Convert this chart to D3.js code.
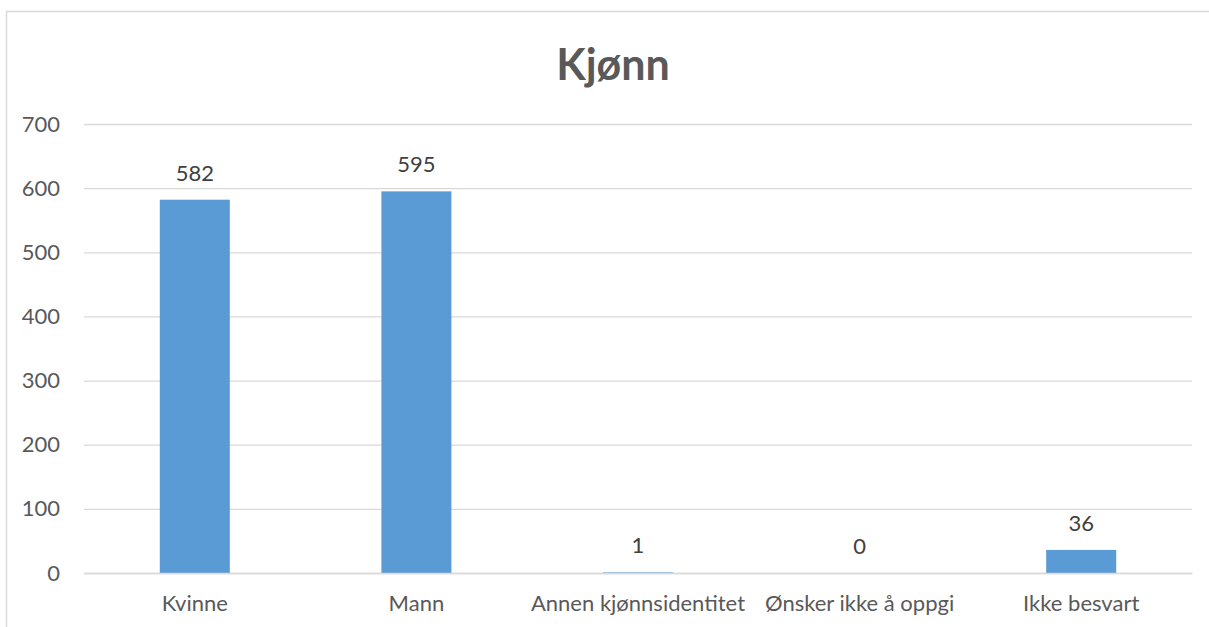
<!DOCTYPE html>
<html><head><meta charset="utf-8">
<script src="https://cdn.jsdelivr.net/npm/d3@7"></script>
<style>body{margin:0;background:#fff;} text{font-family:Lato, "Open Sans", sans-serif;}</style>
</head><body>
<svg id="c" width="1209" height="627"></svg>
<script>
const title = "Kjønn";
const categories = ["Kvinne", "Mann", "Annen kjønnsidentitet", "Ønsker ikke å oppgi", "Ikke besvart"];
const values = [582, 595, 1, 0, 36];
const yTicks = [0, 100, 200, 300, 400, 500, 600, 700];

const svg = d3.select("#c");
const W = 1209, H = 627;
const m = {left: 84, right: 1192, top: 124, bottom: 573};
const col = "#595959";
const fs = "22px";

svg.append("rect").attr("x", 6.5).attr("y", 11.5).attr("width", W + 10).attr("height", H + 10)
  .attr("fill", "#fff").attr("stroke", "#d9d9d9").attr("stroke-width", 1.5);

const x = d3.scaleBand().domain(categories).range([m.left, m.right]).paddingInner(0.684).paddingOuter(0.342);
const y = d3.scaleLinear().domain([0, 700]).range([m.bottom, m.top]);

const ya = svg.append("g").attr("transform", `translate(${m.left},0)`)
  .call(d3.axisLeft(y).tickValues(yTicks).tickSize(-(m.right - m.left)).tickPadding(24));
ya.select(".domain").remove();
ya.selectAll("line").attr("stroke", "#d9d9d9").attr("stroke-width", 1.3);
ya.selectAll("text").attr("fill", col).style("font-size", fs);

svg.append("g").selectAll("rect").data(values).join("rect")
  .attr("x", (d, i) => x(categories[i])).attr("width", x.bandwidth())
  .attr("y", d => y(d)).attr("height", d => y(0) - y(d)).attr("fill", "#5B9BD5");

svg.append("g").selectAll("text").data(values).join("text")
  .attr("x", (d, i) => x(categories[i]) + x.bandwidth() / 2)
  .attr("y", d => y(d) - 19).attr("text-anchor", "middle")
  .attr("fill", "#404040").style("font-size", fs).text(d => d);

const xa = svg.append("g").attr("transform", `translate(0,${m.bottom})`)
  .call(d3.axisBottom(x).tickSize(0).tickPadding(22));
xa.select(".domain").attr("stroke", "#d9d9d9").attr("stroke-width", 1.3);
xa.selectAll("text").attr("fill", col).style("font-size", fs);

svg.append("text").attr("x", 613).attr("y", 80).attr("text-anchor", "middle")
  .attr("fill", col).style("font-size", "43px").style("font-weight", "bold").text(title);
</script>
</body></html>
